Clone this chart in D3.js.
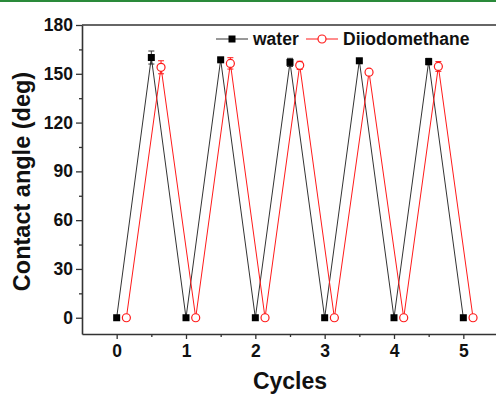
<!DOCTYPE html>
<html>
<head>
<meta charset="utf-8">
<script src="https://cdn.jsdelivr.net/npm/d3@7"></script>
<style>
  html, body { margin: 0; padding: 0; background: #fff; }
  svg { display: block; font-family: Arial, "Liberation Sans", sans-serif; }
</style>
</head>
<body>
<svg id="chart" width="496" height="396"></svg>
<script>
// 数据：循环次数（水和二碘甲烷的采样点）
const waterX = [0, 0.5, 1, 1.5, 2, 2.5, 3, 3.5, 4, 4.5, 5];
const waterY = [0, 160, 0, 158.6, 0, 157, 0, 158, 0, 157.5, 0];
const waterErr = [0, 4, 0, 1, 0, 2.5, 0, 1, 0, 2, 0];

const diioX = [0.14, 0.64, 1.14, 1.64, 2.14, 2.64, 3.14, 3.64, 4.14, 4.64, 5.14];
const diioY = [0, 154, 0, 156.4, 0, 155.2, 0, 151, 0, 154.5, 0];
const diioErr = [0, 4, 0, 3.5, 0, 2.5, 0, 1, 0, 3, 0];

const xTicks = [0, 1, 2, 3, 4, 5];
const yTicks = [0, 30, 60, 90, 120, 150, 180];

const svg = d3.select('#chart');
const width = 496, height = 396;
const margin = { left: 82, top: 25, right: -2, bottom: 62 };

// 顶部绿色细线
svg.append('rect')
  .attr('x', 0).attr('y', 0)
  .attr('width', width).attr('height', 2)
  .attr('fill', '#2a8a3a');

const x = d3.scaleLinear()
  .domain([-0.5, 5.5])
  .range([margin.left, width - margin.right]);
const y = d3.scaleLinear()
  .domain([-10, 180])
  .range([height - margin.bottom, margin.top]);

const axisColor = '#333';

// 顶部边框
svg.append('line')
  .attr('x1', x(-0.5)).attr('x2', x(5.5))
  .attr('y1', y(180)).attr('y2', y(180))
  .attr('stroke', axisColor).attr('stroke-width', 1.6);

// 次刻度
svg.append('g')
  .attr('transform', `translate(${x(-0.5)},0)`)
  .call(d3.axisLeft(y).tickValues(d3.range(0, 181, 15).filter(v => v % 30 !== 0)).tickSize(3).tickFormat(''))
  .call(g => {
    g.select('.domain').remove();
    g.selectAll('.tick line').attr('stroke', axisColor).attr('stroke-width', 1.3);
  });
svg.append('g')
  .attr('transform', `translate(0,${y(-10)})`)
  .call(d3.axisBottom(x).tickValues([0.5, 1.5, 2.5, 3.5, 4.5, 5.5]).tickSize(3).tickFormat(''))
  .call(g => {
    g.select('.domain').remove();
    g.selectAll('.tick line').attr('stroke', axisColor).attr('stroke-width', 1.3);
  });

// Y 轴
svg.append('g')
  .attr('transform', `translate(${x(-0.5)},0)`)
  .call(d3.axisLeft(y).tickValues(yTicks).tickSize(6).tickSizeOuter(0).tickPadding(3))
  .call(g => {
    g.select('.domain').attr('stroke', axisColor).attr('stroke-width', 1.6);
    g.selectAll('.tick line').attr('stroke', axisColor).attr('stroke-width', 1.3);
    g.selectAll('.tick text')
      .attr('fill', '#111')
      .attr('font-size', '17.5px')
      .attr('font-weight', 'bold');
  });

// X 轴
svg.append('g')
  .attr('transform', `translate(0,${y(-10)})`)
  .call(d3.axisBottom(x).tickValues(xTicks).tickFormat(d3.format('d')).tickSize(5).tickSizeOuter(0).tickPadding(6))
  .call(g => {
    g.select('.domain').attr('stroke', axisColor).attr('stroke-width', 1.6);
    g.selectAll('.tick line').attr('stroke', axisColor).attr('stroke-width', 1.3);
    g.selectAll('.tick text')
      .attr('fill', '#111')
      .attr('font-size', '17.5px')
      .attr('font-weight', 'bold');
  });

// 轴标题
svg.append('text')
  .attr('transform', `translate(30,${(y(180) + y(-10)) / 2 + 2}) rotate(-90)`)
  .attr('text-anchor', 'middle')
  .attr('font-size', '23.5px')
  .attr('font-weight', 'bold')
  .attr('fill', '#111')
  .text('Contact angle (deg)');

svg.append('text')
  .attr('x', (x(-0.5) + x(5.5)) / 2)
  .attr('y', 389)
  .attr('text-anchor', 'middle')
  .attr('font-size', '23px')
  .attr('font-weight', 'bold')
  .attr('fill', '#111')
  .text('Cycles');

// 系列定义
const series = [
  { name: 'water', xs: waterX, ys: waterY, err: waterErr, color: '#333', marker: 'square' },
  { name: 'Diiodomethane', xs: diioX, ys: diioY, err: diioErr, color: '#ff1a1a', marker: 'circle' }
];

const line = d3.line().x(d => x(d[0])).y(d => y(d[1]));

series.forEach(s => {
  const pts = s.xs.map((v, i) => [v, s.ys[i], s.err[i]]);

  svg.append('path')
    .datum(pts)
    .attr('d', line)
    .attr('fill', 'none')
    .attr('stroke', s.color)
    .attr('stroke-width', 1);

  // 误差棒
  const eb = svg.append('g');
  pts.filter(d => d[2] > 0).forEach(d => {
    eb.append('line')
      .attr('x1', x(d[0])).attr('x2', x(d[0]))
      .attr('y1', y(d[1] - d[2])).attr('y2', y(d[1] + d[2]))
      .attr('stroke', s.color).attr('stroke-width', 1);
    [d[1] - d[2], d[1] + d[2]].forEach(v => {
      eb.append('line')
        .attr('x1', x(d[0]) - 3).attr('x2', x(d[0]) + 3)
        .attr('y1', y(v)).attr('y2', y(v))
        .attr('stroke', s.color).attr('stroke-width', 1);
    });
  });

  // 标记点
  if (s.marker === 'square') {
    svg.append('g').selectAll('rect')
      .data(pts).enter().append('rect')
      .attr('x', d => x(d[0]) - 3.5)
      .attr('y', d => y(d[1]) - 3.5)
      .attr('width', 7).attr('height', 7)
      .attr('fill', '#000');
  } else {
    svg.append('g').selectAll('circle')
      .data(pts).enter().append('circle')
      .attr('cx', d => x(d[0]))
      .attr('cy', d => y(d[1]))
      .attr('r', 4)
      .attr('fill', '#fff')
      .attr('stroke', s.color)
      .attr('stroke-width', 1.2);
  }
});

// 图例
const legend = svg.append('g');
const ly = 39;
legend.append('line').attr('x1', 216).attr('x2', 248).attr('y1', ly).attr('y2', ly)
  .attr('stroke', '#333').attr('stroke-width', 1);
legend.append('rect').attr('x', 232 - 3.5).attr('y', ly - 3.5).attr('width', 7).attr('height', 7).attr('fill', '#000');
legend.append('text').attr('x', 253).attr('y', ly + 6)
  .attr('font-size', '17.5px').attr('font-weight', 'bold').attr('fill', '#111').text('water');

legend.append('line').attr('x1', 306).attr('x2', 338).attr('y1', ly).attr('y2', ly)
  .attr('stroke', '#ff1a1a').attr('stroke-width', 1);
legend.append('circle').attr('cx', 322).attr('cy', ly).attr('r', 4)
  .attr('fill', '#fff').attr('stroke', '#ff1a1a').attr('stroke-width', 1.2);
legend.append('text').attr('x', 343).attr('y', ly + 6)
  .attr('font-size', '17.5px').attr('font-weight', 'bold').attr('fill', '#111').text('Diiodomethane');
</script>
</body>
</html>
